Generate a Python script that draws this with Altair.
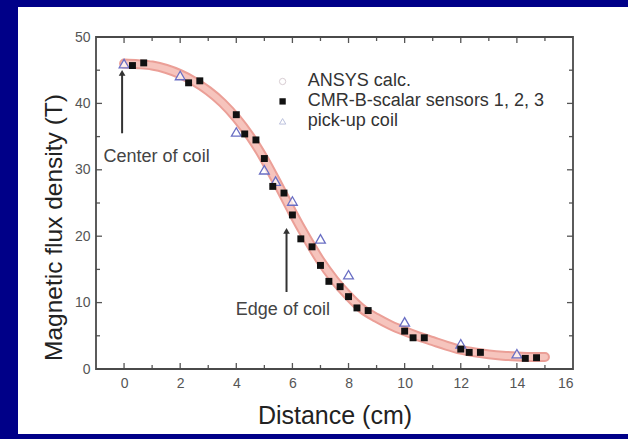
import altair as alt
import pandas as pd

# ---- data ----
ansys_x = [0, 0.5, 1, 1.5, 2, 2.5, 3, 3.5, 4, 4.5, 5, 5.5, 6, 6.5, 7, 7.5, 8, 8.5, 9, 9.5, 10, 10.5, 11, 11.5, 12, 12.5, 13, 13.5, 14, 14.5, 15]
ansys_y = [46.0, 45.9, 45.7, 45.2, 44.4, 43.3, 41.9, 40.1, 37.8, 35.0, 31.6, 27.7, 23.6, 19.8, 16.3, 13.4, 11.0, 9.0, 7.7, 6.6, 5.7, 4.9, 4.2, 3.5, 2.9, 2.5, 2.2, 2.0, 1.9, 1.8, 1.8]

cmr_x = [0.3, 0.7, 2.3, 2.7, 4.0, 4.3, 4.7, 5.0, 5.3, 5.7, 6.0, 6.3, 6.7, 7.0, 7.3, 7.7, 8.0, 8.3, 8.7, 10.0, 10.3, 10.7, 12.0, 12.3, 12.7, 14.3, 14.7]
cmr_y = [45.7, 46.1, 43.1, 43.4, 38.3, 35.4, 34.5, 31.7, 27.5, 26.5, 23.2, 19.6, 18.4, 15.6, 13.2, 12.4, 10.9, 9.2, 8.8, 5.7, 4.7, 4.7, 3.0, 2.5, 2.5, 1.6, 1.7]

pick_x = [0, 2, 4, 5, 5.4, 6, 7, 8, 10, 12, 14]
pick_y = [46.0, 44.2, 35.7, 30.0, 28.3, 25.3, 19.6, 14.2, 7.1, 3.8, 2.3]

legend_labels = ["ANSYS calc.", "CMR-B-scalar sensors 1, 2, 3", "pick-up coil"]
legend_y = [43.3, 40.3, 37.3]

x_major = [0, 2, 4, 6, 8, 10, 12, 14]
x_minor = [1, 3, 5, 7, 9, 11, 13, 15]
y_major = [10, 20, 30, 40]
y_minor = [5, 15, 25, 35, 45]

notes = ["Center of coil", "Edge of coil"]
note_x = [1.16, 5.66]
note_y = [31.9, 8.9]
arrow_x = [-0.07, 5.79]
arrow_y0 = [35.5, 11.6]
arrow_y1 = [44.6, 20.8]

W, H = 477, 332
FONT = "Liberation Sans"

xs = alt.Scale(domain=[-1, 16], nice=False, zero=False)
ys = alt.Scale(domain=[0, 50], nice=False, zero=False)

X = alt.X("x:Q", scale=xs,
          axis=alt.Axis(values=list(range(0, 17, 2)), grid=False, ticks=False, domain=False,
                        labelFontSize=14, labelColor="#555", labelFont=FONT, labelPadding=7,
                        title="Distance (cm)", titleFontSize=25, titleFont=FONT, titleFontWeight="normal",
                        titleColor="#222", titleY=46, titleBaseline="middle", zindex=1))
Y = alt.Y("y:Q", scale=ys,
          axis=alt.Axis(values=list(range(0, 51, 10)), grid=False, ticks=False, domain=False,
                        labelFontSize=14, labelColor="#555", labelFont=FONT, labelPadding=6,
                        title="Magnetic flux density (T)", titleFontSize=24.5, titleFont=FONT,
                        titleFontWeight="normal", titleColor="#222", titleX=-42, titleY=190,
                        titleAngle=270, titleAlign="center", titleBaseline="middle", zindex=1))

one = pd.DataFrame({"a": [0]})
panel = alt.Chart(one).mark_rect(color="white").encode(
    x=alt.value(-78), x2=alt.value(532), y=alt.value(-30), y2=alt.value(397))

ansys = pd.DataFrame({"x": ansys_x, "y": ansys_y})
band_outer = alt.Chart(ansys).mark_line(color="#eb9f97", strokeWidth=10, strokeCap="round",
                                        interpolate="monotone").encode(x=X, y=Y)
band_inner = alt.Chart(ansys).mark_line(color="#f6c4bd", strokeWidth=6, strokeCap="round",
                                        interpolate="monotone").encode(x=X, y=Y)

pick = pd.DataFrame({"x": pick_x, "y": pick_y})
tri = alt.Chart(pick).mark_point(shape="triangle-up", size=95, filled=True, fill="white",
                                 fillOpacity=0.7, stroke="#6a6fc4", strokeWidth=1.3).encode(x=X, y=Y)

cmr = pd.DataFrame({"x": cmr_x, "y": cmr_y})
sq = alt.Chart(cmr).mark_square(size=48, color="#111", opacity=1).encode(x=X, y=Y)

# ticks (inward, all four sides)
def xticks(vals, ln):
    d = pd.DataFrame({"x": vals})
    b = alt.Chart(d).mark_rule(color="#555", strokeWidth=1.3).encode(x=X, y=alt.value(H), y2=alt.value(H - ln))
    t = alt.Chart(d).mark_rule(color="#555", strokeWidth=1.3).encode(x=X, y=alt.value(0), y2=alt.value(ln))
    return [b, t]

def yticks(vals, ln):
    d = pd.DataFrame({"y": vals})
    l = alt.Chart(d).mark_rule(color="#555", strokeWidth=1.3).encode(y=Y, x=alt.value(0), x2=alt.value(ln))
    r = alt.Chart(d).mark_rule(color="#555", strokeWidth=1.3).encode(y=Y, x=alt.value(W), x2=alt.value(W - ln))
    return [l, r]

ticks = xticks(x_major, 6) + xticks(x_minor, 4) + yticks(y_major, 6) + yticks(y_minor, 4)

frame = alt.Chart(one).mark_rect(fill=None, stroke="#4a4a4a", strokeWidth=1.8).encode(
    x=alt.value(0), x2=alt.value(W), y=alt.value(0), y2=alt.value(H))

# arrows and notes
arr = pd.DataFrame({"x": arrow_x, "y": arrow_y0, "y2": arrow_y1})
arrow_shaft = alt.Chart(arr).mark_rule(color="#333", strokeWidth=2).encode(x=X, y=Y, y2="y2:Q")
arrow_head = alt.Chart(arr).mark_point(shape="triangle-up", filled=True, color="#333", size=45, opacity=1).encode(
    x=X, y=alt.Y("y2:Q", scale=ys))
nt = pd.DataFrame({"x": note_x, "y": note_y, "t": notes})
note_text = alt.Chart(nt).mark_text(fontSize=18, font=FONT, color="#444").encode(x=X, y=Y, text="t:N")

# legend
leg = pd.DataFrame({"y": legend_y, "t": legend_labels})
leg_c = alt.Chart(leg.iloc[[0]]).mark_point(shape="circle", size=40, filled=False, color="#c8b8c0",
                                            strokeWidth=1).encode(x=alt.datum(5.65), y=Y)
leg_s = alt.Chart(leg.iloc[[1]]).mark_square(size=40, color="#111", opacity=1).encode(x=alt.datum(5.65), y=Y)
leg_t = alt.Chart(leg.iloc[[2]]).mark_point(shape="triangle-up", size=40, filled=False, color="#a0a8d0",
                                            strokeWidth=1).encode(x=alt.datum(5.65), y=Y)
leg_text = alt.Chart(leg).mark_text(align="left", baseline="middle", fontSize=18, font=FONT,
                                    color="#333").encode(x=alt.datum(6.55), y=Y, text="t:N")

chart = alt.layer(
    panel, band_outer, band_inner, tri, sq, *ticks, frame,
    arrow_shaft, arrow_head, note_text, leg_c, leg_s, leg_t, leg_text
).properties(
    width=W, height=H,
    autosize=alt.AutoSizeParams(type="none"),
    padding={"left": 96, "top": 37, "right": 55, "bottom": 70},
    background="#000088",
).configure_view(stroke=None)

chart.save("out.html", embed_options={"renderer": "svg", "actions": False})
